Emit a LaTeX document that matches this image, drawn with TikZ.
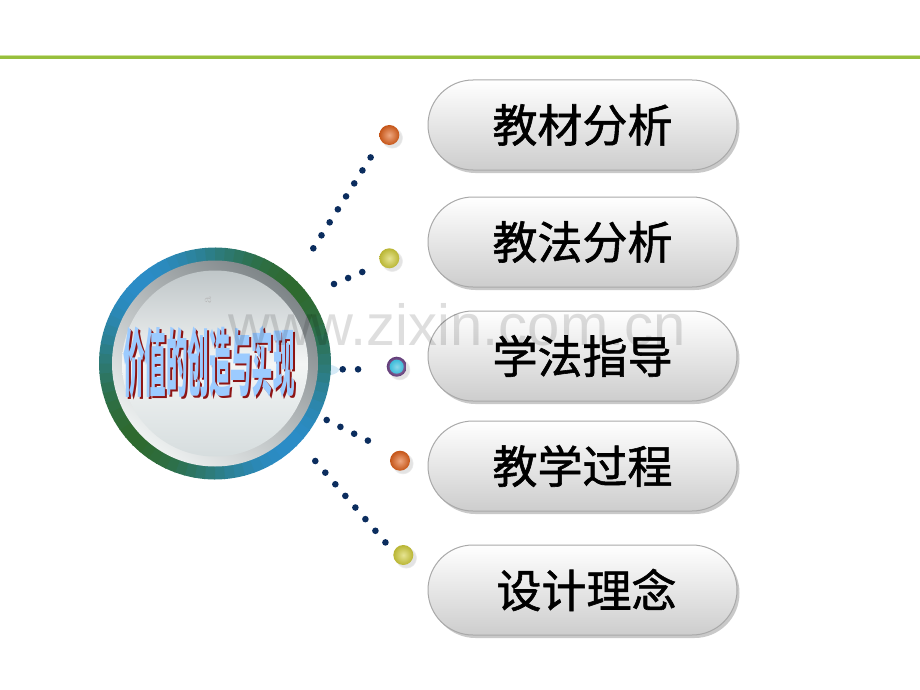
\documentclass[tikz,border=0pt]{standalone}
\usepackage{fontspec}
\newfontfamily\cjk{Noto Sans CJK SC}
\newfontfamily\cjkpill[FakeBold=1.3]{Noto Sans CJK SC}
\newfontfamily\wmfont{Liberation Sans}
\usetikzlibrary{shapes.misc,shadows}
\definecolor{limeline}{HTML}{97BF3D}
\definecolor{limeedge}{HTML}{CFE29A}
\definecolor{ringblue}{HTML}{2B8CC6}
\definecolor{ringgreen}{HTML}{2E6A2F}
\definecolor{bevdark}{HTML}{7E8588}
\definecolor{bevlight}{HTML}{EEF1F1}
\definecolor{disctop}{HTML}{BFC6C8}
\definecolor{discmid}{HTML}{F3F5F5}
\definecolor{discbot}{HTML}{D6DDDE}
\definecolor{glowblue}{HTML}{D5EAF7}
\definecolor{titleblue}{HTML}{9CCBFF}
\definecolor{titlered}{HTML}{8E1414}
\definecolor{navydot}{HTML}{0B2D5E}
\definecolor{pillborder}{HTML}{A9A9A9}
\definecolor{pillbot}{HTML}{CDCDCD}
\definecolor{ballorange}{HTML}{E0601A}
\definecolor{ballyellow}{HTML}{D2CE3A}
\definecolor{ballpurple}{HTML}{6E4388}
\definecolor{ballcyan}{HTML}{3DBCDA}
\begin{document}
\begin{tikzpicture}[x=1pt,y=-1pt,
  pill/.style={rounded rectangle, minimum width=309pt, minimum height=90pt, inner sep=0pt,
    draw=pillborder, line width=1pt, top color=white, bottom color=pillbot,
    drop shadow={shadow xshift=2.5pt, shadow yshift=-3pt, opacity=0.35, fill=black!60},
    font=\cjkpill\fontsize{45}{45}\selectfont},
  ballnode/.style={circle, minimum size=20pt, inner sep=0pt, inner color=#1!55!white, outer color=#1!88!black,
    circular drop shadow={shadow xshift=2.5pt, shadow yshift=-2.5pt, opacity=0.22, fill=black!50}},
  dotline/.style={draw=navydot, line width=6.6pt, line cap=round, dash pattern=on 0pt off 15.35pt},
  titletext/.style={inner sep=0pt, font=\cjk\bfseries\fontsize{74}{74}\selectfont}]
\useasboundingbox (0,0) rectangle (920,690);
\fill[white] (0,0) rectangle (920,690);
% top green line
\coordinate (l0) at (0,57.3);
\coordinate (l1) at (920,57.3);
\draw[limeedge, line width=4.2pt] (l0) -- (l1);
\draw[limeline, line width=2.6pt] (l0) -- (l1);
% central disc
\coordinate (c) at (215,363.5);
\fill[glowblue] (225,370) ellipse [x radius=114, y radius=14];
\fill[black!25] (104,370) -- (112,363) -- (112,377) -- cycle;
\fill[black] (318,367) ellipse [x radius=2.5, y radius=5];
\foreach \a in {0,5,...,355}{
  \pgfmathtruncatemacro\g{50+50*cos(2*(\a-135))}
  \fill[ringgreen!\g!ringblue, shift={(215,363.5)}]
    (\a:116) arc[start angle=\a, end angle=\a+5.6, radius=116]
    -- ({\a+5.6}:102) arc[start angle=\a+5.6, end angle=\a, radius=102] -- cycle;
}
\shade[top color=bevdark, bottom color=bevlight, shading angle=-40] (c) circle (103);
\shade[top color=disctop, bottom color=discbot, middle color=discmid] (c) circle (93);
\node[text=black!28, rotate=90, font=\fontsize{14}{14}\selectfont] (smalla) at (208,300) {a};
% title
\node[titletext, text=titlered] (titleshadow) at (211,364) {\scalebox{0.29}[1]{价值的创造与实现}};
\node[titletext, text=titleblue] (title) at (209,362) {\scalebox{0.29}[1]{价值的创造与实现}};
% dotted connectors
\coordinate (s1) at (313.3,248.3); \coordinate (e1) at (370.7,157.3);
\coordinate (s2) at (334,284);     \coordinate (e2) at (362.3,272);
\coordinate (s3) at (342.7,369.3); \coordinate (e3) at (373.3,369.3);
\coordinate (s4) at (326.7,420);   \coordinate (e4) at (381.3,447.3);
\coordinate (s5) at (315.3,461);   \coordinate (e5) at (385.7,542.7);
\draw[dotline] (s1) -- (e1);
\draw[dotline] (s2) -- (e2);
\draw[dotline] (s3) -- (e3);
\draw[dotline] (s4) -- (e4);
\draw[dotline] (s5) -- (e5);
% balls
\node[ballnode=ballorange] (b1) at (389.3,135) {};
\node[ballnode=ballyellow] (b2) at (389.3,258.3) {};
\node[ballnode=ballpurple] (b3) at (396.7,366.7) {};
\node[circle, minimum size=14pt, inner sep=0pt, inner color=ballcyan!60!white, outer color=ballcyan] (b3in) at (b3) {};
\node[ballnode=ballorange] (b4) at (400,460.7) {};
\node[ballnode=ballyellow] (b5) at (403.3,555) {};
% pills
\node[pill] (p1) at (582.5,125) {教材分析};
\node[pill] (p2) at (582.5,242) {教法分析};
\node[pill] (p3) at (582.5,356) {学法指导};
\node[pill] (p4) at (582.5,466) {教学过程};
\node[pill] (p5) at (582.5,590) {\hspace{8pt}设计理念};
% watermark
\node[anchor=base east, inner sep=0pt, text=black, opacity=0.13,
  font=\wmfont\fontsize{58}{58}\selectfont] (wm) at (686,345) {www.zixin.com.cn};
\end{tikzpicture}
\end{document}
